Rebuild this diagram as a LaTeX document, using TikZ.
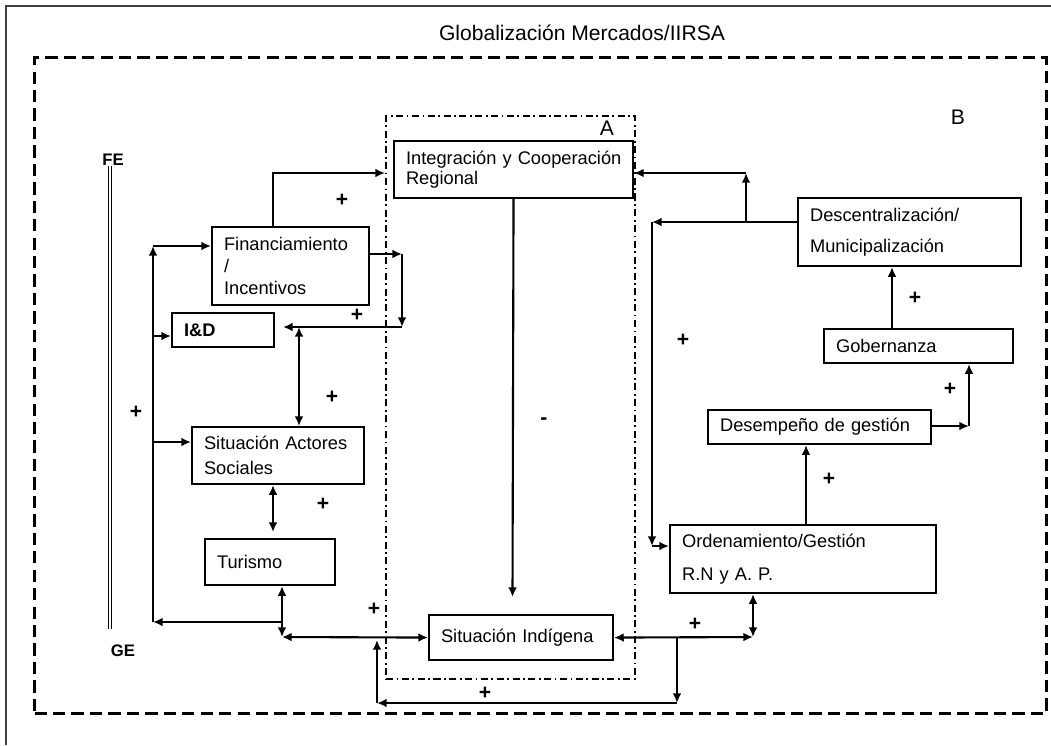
\documentclass[tikz,border=0pt]{standalone}
\usepackage{fontspec}
\setmainfont{Liberation Sans}
\usetikzlibrary{arrows.meta}

\tikzset{
	caja/.style={
		draw,
		line width=1.2pt,
		anchor=north west,
		align=left,
		inner xsep=0.24cm,
		inner ysep=0pt,
		font=\fontsize{10.4}{12.5}\selectfont
	},
	flecha/.style={line width=1.2pt,-{Latex[length=5.5pt,width=5pt]}},
	doble/.style={line width=1.2pt,{Latex[length=5.5pt,width=5pt]}-{Latex[length=5.5pt,width=5pt]}},
	signo/.style={font=\fontsize{12}{12}\selectfont\bfseries},
	zonaA/.style={draw,line width=1.2pt,dash pattern=on 4pt off 2pt on 1pt off 2pt,
		inner sep=0pt,anchor=north west},
	zonaB/.style={draw,line width=1.8pt,dash pattern=on 7pt off 3.5pt,
		inner sep=0pt,anchor=north west}
}

\begin{document}
\hyphenpenalty=10000
\exhyphenpenalty=10000
\begin{tikzpicture}[x=0.02cm,y=-0.02cm]

\useasboundingbox (0,0) rectangle (1051,745);
\draw[line width=0.7pt,black!75] (1051,6) -- (6,6) -- (6,745);

\node[font=\fontsize{12}{14}\selectfont] (titulo) at (582,33) {Globalización Mercados/IIRSA};

% zonas
\node[zonaB,minimum width=20.24cm,minimum height=13.12cm] (zB) at (33,56) {};
\node[zonaA,minimum width=4.98cm,minimum height=11.26cm] (zA) at (385,115) {};
\node[font=\fontsize{12}{12}\selectfont] (etqA) at (607,128) {A};
\node[font=\fontsize{12}{12}\selectfont] (etqB) at (958,117) {B};

% cajas
\node[caja,text width=4.30cm,minimum height=1.14cm] (integ) at (393,140) {\mbox{Integración y Cooperación}\\[-1pt]Regional};
\node[caja,text width=2.66cm,minimum height=1.56cm] (fin) at (211,226) {Financiamiento\\/\\Incentivos};
\node[caja,text width=1.56cm,minimum height=0.68cm] (iyd) at (171,312) {\bfseries I\&D};
\node[caja,text width=2.96cm,minimum height=1.14cm] (actores) at (191,426) {\mbox{Situación Actores}\\[2pt]Sociales};
\node[caja,text width=2.12cm,minimum height=0.92cm] (turismo) at (204,538) {\raisebox{-3pt}{Turismo}};
\node[caja,text width=3.20cm,minimum height=0.90cm] (indigena) at (428,614) {Situación Indígena};
\node[caja,text width=3.98cm,minimum height=1.36cm] (descen) at (797,197) {Descentralización/\\[5pt]Municipalización};
\node[caja,text width=3.30cm,minimum height=0.68cm] (gober) at (823,328) {Gobernanza};
\node[caja,text width=3.98cm,minimum height=0.68cm] (desemp) at (707,409) {Desempeño de gestión};
\node[caja,text width=4.84cm,minimum height=1.36cm] (orden) at (669,524) {Ordenamiento/Gestión\\[6pt]R.N y A. P.};

% eje FE - GE
\node[font=\fontsize{9.5}{11}\selectfont\bfseries] (fe) at (113,160) {FE};
\node[font=\fontsize{9.5}{11}\selectfont\bfseries] (ge) at (123,651) {GE};
\coordinate (fg1) at (110,166);
\coordinate (fg2) at (110,629);
\draw[line width=0.5pt,double distance=1.6pt] (fg1) -- (fg2);

% puntos de quiebre
\coordinate (fa) at (273,173);
\coordinate (bs) at (153,246);
\coordinate (bd) at (153,336);
\coordinate (ba) at (153,442);
\coordinate (bi) at (153,622);
\coordinate (tc) at (282,637);
\coordinate (fe1) at (402,254);
\coordinate (fe2) at (402,327);
\coordinate (fe3) at (283,327);
\coordinate (ia) at (299,327);
\coordinate (at) at (273,483);
\coordinate (ii) at (512.5,597);
\coordinate (ie) at (753,637);
\coordinate (l1) at (677,703);
\coordinate (l2) at (377,703);
\coordinate (d1) at (746,222);
\coordinate (d2) at (652,222);
\coordinate (d3) at (652,546);
\coordinate (s1) at (969,426);
\coordinate (g1) at (892,328);
\coordinate (o1) at (806,524);

% lado izquierdo
\draw[flecha] (fin.north -| fa) -- (fa) -- (fa -| zA.west);
\draw[flecha] (tc |- bi) -- (bi);
\draw[flecha] (bi) -- (bs);
\draw[flecha] (bs) -- (bs -| fin.west);
\draw[flecha] (bd) -- (bd -| iyd.west);
\draw[flecha] (ba) -- (ba -| actores.west);
\draw[flecha] (fin.east |- fe1) -- (fe1);
\draw[flecha] (fe1) -- (fe2);
\draw[flecha] (fe2) -- (fe3);
\draw[doble] (ia) -- (ia |- actores.north);
\draw[doble] (actores.south -| at) -- ([yshift=0.12cm]turismo.north -| at);
\draw[doble] (turismo.south -| tc) -- (tc);
\draw[doble] (tc) -- (indigena.west);

% centro
\draw[flecha] (integ.south) -- (ii);
\draw[doble] (indigena.east) -- (ie);
\draw[doble] (ie) -- (ie |- orden.south);
\draw[flecha] (l1 |- ie) -- (l1);
\draw[flecha] (l1) -- (l2);
\draw[flecha] (l2) -- ([yshift=-0.06cm]l2 |- tc);

% lado derecho
\draw[flecha] (descen.west |- d1) -- (d2);
\draw[flecha] (d1) -- (d1 |- fa);
\draw[flecha] (d1 |- fa) -- (fa -| integ.east);
\draw[flecha] (d2) -- (d3);
\draw[flecha] (d3) -- (d3 -| orden.west);
\draw[flecha] (g1) -- (g1 |- descen.south);
\draw[flecha] (desemp.east |- s1) -- (s1);
\draw[flecha] (s1) -- (s1 |- gober.south);
\draw[flecha] (o1) -- (o1 |- desemp.south);

% signos
\node[signo] (m1) at (342,200) {+};
\node[signo] (m2) at (357,315) {+};
\node[signo] (m3) at (332,397) {+};
\node[signo] (m4) at (136,412) {+};
\node[signo] (m5) at (323,504) {+};
\node[signo] (m6) at (374,609) {+};
\node[signo] (m7) at (485,693) {+};
\node[signo] (m8) at (695,624) {+};
\node[signo] (m9) at (829,479) {+};
\node[signo] (m10) at (950,389) {+};
\node[signo] (m11) at (915,298) {+};
\node[signo] (m12) at (683,340) {+};
\node[signo] (menos) at (544,421) {-};

\end{tikzpicture}
\end{document}
